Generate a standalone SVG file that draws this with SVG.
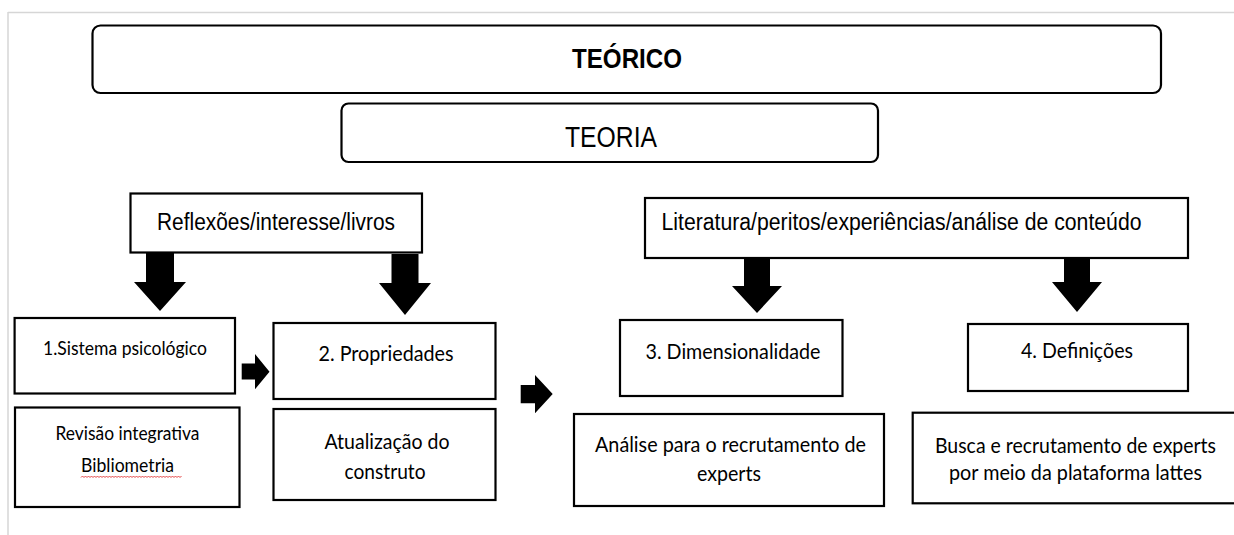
<svg xmlns="http://www.w3.org/2000/svg" width="1234" height="535" viewBox="0 0 1234 535">
<style>
.box{fill:#fff;stroke:#000;stroke-width:2.2}
.rbox{fill:#fff;stroke:#000;stroke-width:2.2}
.ar{fill:#000;stroke:none}
.n{font-family:"Liberation Sans Narrow","Liberation Sans",Arial,sans-serif;fill:#000}
.c{font-family:Lato,"Open Sans","Noto Sans",sans-serif;fill:#000}
</style>
<rect x="0" y="0" width="1234" height="535" fill="#fff"/>
<g id="frame" fill="none" stroke="#d6d6d6" stroke-width="1.5">
<line x1="8" y1="12.5" x2="1234" y2="12.5"/>
<line x1="8" y1="12" x2="8" y2="535"/>
</g>
<g id="teorico">
<rect class="rbox" x="92.5" y="25.5" width="1068.5" height="67.5" rx="8"/>
<text class="n" x="627" y="68" font-size="28" font-weight="bold" text-anchor="middle" textLength="110" lengthAdjust="spacingAndGlyphs">TEÓRICO</text>
</g>
<g id="teoria">
<rect class="rbox" x="341.5" y="103.5" width="536.5" height="58.5" rx="7"/>
<text class="n" x="611" y="147" font-size="29" text-anchor="middle" textLength="92" lengthAdjust="spacingAndGlyphs">TEORIA</text>
</g>
<g id="reflexoes">
<rect class="box" x="130.5" y="193.5" width="291.5" height="59"/>
<text class="n" x="276" y="230" font-size="23.5" text-anchor="middle" textLength="238" lengthAdjust="spacingAndGlyphs">Reflexões/interesse/livros</text>
</g>
<g id="literatura">
<rect class="box" x="645" y="198" width="543" height="60"/>
<text class="n" x="661.5" y="230" font-size="23.5" textLength="480" lengthAdjust="spacingAndGlyphs">Literatura/peritos/experiências/análise de conteúdo</text>
</g>
<g id="n1">
<rect class="box" x="14.6" y="318" width="220.4" height="75.5"/>
<text class="c" x="125" y="355" font-size="18.5" text-anchor="middle" textLength="164" lengthAdjust="spacingAndGlyphs">1.Sistema psicológico</text>
</g>
<g id="n2">
<rect class="box" x="273.5" y="323" width="222" height="76"/>
<text class="c" x="386" y="361" font-size="21" text-anchor="middle" textLength="135" lengthAdjust="spacingAndGlyphs">2. Propriedades</text>
</g>
<g id="n3">
<rect class="box" x="620" y="320" width="222.5" height="76"/>
<text class="c" x="733" y="359" font-size="21" text-anchor="middle" textLength="175" lengthAdjust="spacingAndGlyphs">3. Dimensionalidade</text>
</g>
<g id="n4">
<rect class="box" x="968" y="324" width="220" height="67"/>
<text class="c" x="1077" y="358" font-size="21" text-anchor="middle" textLength="112" lengthAdjust="spacingAndGlyphs">4. Definições</text>
</g>
<g id="revisao">
<rect class="box" x="15" y="407.5" width="224.5" height="99.5"/>
<text class="c" x="127.5" y="440" font-size="18.5" text-anchor="middle" textLength="144" lengthAdjust="spacingAndGlyphs">Revisão integrativa</text>
<text class="c" x="127.5" y="471.5" font-size="18.5" text-anchor="middle" textLength="93" lengthAdjust="spacingAndGlyphs">Bibliometria</text>
<path d="M81 477.5 l1.5 -1.5 l1.5 1.5 l1.5 -1.5 l1.5 1.5 l1.5 -1.5 l1.5 1.5 l1.5 -1.5 l1.5 1.5 l1.5 -1.5 l1.5 1.5 l1.5 -1.5 l1.5 1.5 l1.5 -1.5 l1.5 1.5 l1.5 -1.5 l1.5 1.5 l1.5 -1.5 l1.5 1.5 l1.5 -1.5 l1.5 1.5 l1.5 -1.5 l1.5 1.5 l1.5 -1.5 l1.5 1.5 l1.5 -1.5 l1.5 1.5 l1.5 -1.5 l1.5 1.5 l1.5 -1.5 l1.5 1.5 l1.5 -1.5 l1.5 1.5 l1.5 -1.5 l1.5 1.5 l1.5 -1.5 l1.5 1.5 l1.5 -1.5 l1.5 1.5 l1.5 -1.5 l1.5 1.5 l1.5 -1.5 l1.5 1.5 l1.5 -1.5 l1.5 1.5 l1.5 -1.5 l1.5 1.5 l1.5 -1.5 l1.5 1.5 l1.5 -1.5 l1.5 1.5 l1.5 -1.5 l1.5 1.5 l1.5 -1.5 l1.5 1.5 l1.5 -1.5 l1.5 1.5 l1.5 -1.5 l1.5 1.5 l1.5 -1.5 l1.5 1.5 l1.5 -1.5 l1.5 1.5 l1.5 -1.5 l1.5 1.5 l1.5 -1.5 l1.5 1.5 l1.5 -1.5" fill="none" stroke="#e03030" stroke-width="0.9"/>
</g>
<g id="atualizacao">
<rect class="box" x="273.5" y="409" width="222" height="91"/>
<text class="c" x="387" y="449" font-size="21" text-anchor="middle" textLength="125" lengthAdjust="spacingAndGlyphs">Atualização do</text>
<text class="c" x="385" y="479" font-size="21" text-anchor="middle" textLength="81" lengthAdjust="spacingAndGlyphs">construto</text>
</g>
<g id="analise">
<rect class="box" x="574" y="414" width="310" height="92"/>
<text class="c" x="730.5" y="452" font-size="21" text-anchor="middle" textLength="271" lengthAdjust="spacingAndGlyphs">Análise para o recrutamento de</text>
<text class="c" x="729" y="481" font-size="21" text-anchor="middle" textLength="64" lengthAdjust="spacingAndGlyphs">experts</text>
</g>
<g id="busca">
<rect class="box" x="912.7" y="412.7" width="330" height="90.6"/>
<text class="c" x="1075.5" y="453" font-size="21" text-anchor="middle" textLength="281" lengthAdjust="spacingAndGlyphs">Busca e recrutamento de experts</text>
<text class="c" x="1075.5" y="480" font-size="21" text-anchor="middle" textLength="253" lengthAdjust="spacingAndGlyphs">por meio da plataforma lattes</text>
</g>
<g id="connectors">
<polygon class="ar" points="146,253 174,253 174,282 186,282 160,311 134,282 146,282"/>
<polygon class="ar" points="391.5,254 418.5,254 418.5,283 431,283 405,315 379,283 391.5,283"/>
<polygon class="ar" points="744,259 770,259 770,286 782,286 757,313 732,286 744,286"/>
<polygon class="ar" points="1064,259 1090,259 1090,282 1102,282 1077,312 1052,282 1064,282"/>
<polygon class="ar" points="241.7,363.5 255,363.5 255,354 269.5,371.7 255,389.3 255,379.5 241.7,379.5"/>
<polygon class="ar" points="520.7,385 535,385 535,375 552.7,394 535,413.3 535,403.3 520.7,403.3"/>
</g>
</svg>
